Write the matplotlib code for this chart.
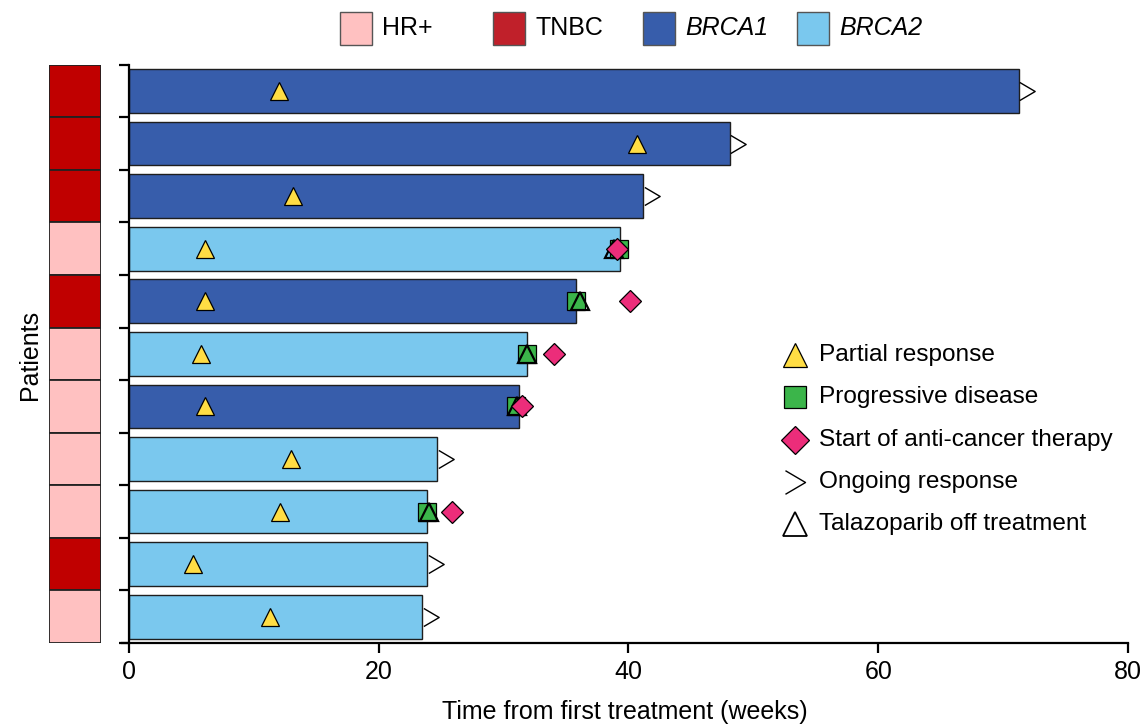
import matplotlib
matplotlib.use("Agg")
import matplotlib.pyplot as plt
from matplotlib.patches import Rectangle
from matplotlib.lines import Line2D
from matplotlib.path import Path

plt.rcParams['font.family'] = ['Liberation Sans', 'DejaVu Sans']

# Patients from top to bottom
subtype = ["TNBC", "TNBC", "TNBC", "HR+", "TNBC", "HR+", "HR+", "HR+", "HR+", "TNBC", "HR+"]
gene = ["BRCA1", "BRCA1", "BRCA1", "BRCA2", "BRCA1", "BRCA2", "BRCA1", "BRCA2", "BRCA2", "BRCA2", "BRCA2"]
duration = [71.3, 48.1, 41.2, 39.3, 35.8, 31.9, 31.2, 24.7, 23.9, 23.9, 23.5]
partial_response = [12.0, 40.7, 13.1, 6.1, 6.1, 5.8, 6.1, 13.0, 12.1, 5.1, 11.3]
ongoing = [True, True, True, False, False, False, False, True, False, True, True]
progression = [None, None, None, 39.2, 35.8, 31.9, 31.0, None, 23.9, None, None]
off_treatment = [None, None, None, 38.8, 36.1, 31.9, 31.1, None, 24.0, None, None]
anticancer = [None, None, None, 39.1, 40.1, 34.0, 31.5, None, 25.9, None, None]
x_ticks = [0, 20, 40, 60, 80]

subtype_colors = {"HR+": "#FFC1C1", "TNBC": "#C00000"}
gene_colors = {"BRCA1": "#375DAB", "BRCA2": "#7AC8EE"}
c_pr = "#FFDD44"
c_pd = "#3BB54A"
c_tx = "#EC2D7A"

W, H = 1148, 727
fig = plt.figure(figsize=(W / 100, H / 100), dpi=100)

ax_bottom = (H - 643) / H
ax_height = (643 - 64.7) / H
ax = fig.add_axes([121.5 / W, ax_bottom, (1128 - 121.5) / W, ax_height])
n = len(duration)
ax.set_ylim(0, n)
ax.set_xlim(-0.6, 80)

chevron = Path([(-0.85, 1.0), (0.85, 0.0), (-0.85, -1.0)],
               [Path.MOVETO, Path.LINETO, Path.LINETO])

for i in range(n):
    y = n - i - 0.5
    ax.barh(y, duration[i], height=0.83, left=0, color=gene_colors[gene[i]],
            edgecolor="#1e1e1e", linewidth=1.0, zorder=2)
    ax.plot(partial_response[i], y, marker="^", ms=13, mfc=c_pr, mec="black",
            mew=0.9, ls="none", zorder=4)
    if ongoing[i]:
        ax.plot(duration[i] + 0.65, y, marker=chevron, ms=13, mfc="none",
                mec="black", mew=1.0, ls="none", zorder=4, clip_on=False)
    if progression[i] is not None:
        ax.plot(progression[i], y, marker="s", ms=12.5, mfc=c_pd, mec="black",
                mew=0.9, ls="none", zorder=4)
    if off_treatment[i] is not None:
        ax.plot(off_treatment[i], y, marker="^", ms=13, mfc="none", mec="black",
                mew=1.6, ls="none", zorder=5)
    if anticancer[i] is not None:
        ax.plot(anticancer[i], y, marker="D", ms=11, mfc=c_tx, mec="black",
                mew=0.9, ls="none", zorder=6)

ax.spines["top"].set_visible(False)
ax.spines["right"].set_visible(False)
ax.spines["left"].set_position(("data", 0))
for s in ("left", "bottom"):
    ax.spines[s].set_linewidth(1.6)
ax.set_yticks(range(n + 1))
ax.set_yticklabels([])
ax.tick_params(axis="y", length=7, width=1.6, direction="out")
ax.set_xticks(x_ticks)
ax.set_xticklabels([str(t) for t in x_ticks], fontsize=18)
ax.tick_params(axis="x", length=7, width=1.6, direction="out", pad=5)
ax.set_xlabel("Time from first treatment (weeks)", fontsize=18, labelpad=12)

# Subtype strip
ax_s = fig.add_axes([49 / W, ax_bottom, 52 / W, ax_height])
ax_s.set_xlim(0, 1)
ax_s.set_ylim(0, n)
for i in range(n):
    ax_s.add_patch(Rectangle((0, n - i - 1), 1, 1, facecolor=subtype_colors[subtype[i]],
                             edgecolor="#222222", linewidth=1.3))
ax_s.axis("off")

fig.text(30 / W, 1 - 355 / H, "Patients", rotation=90, fontsize=18,
         ha="center", va="center")

# Top legend
top_items = [("HR+", subtype_colors["HR+"], 340, "normal"),
             ("TNBC", "#C0202A", 493, "normal"),
             ("BRCA1", gene_colors["BRCA1"], 643, "italic"),
             ("BRCA2", gene_colors["BRCA2"], 797, "italic")]
for label, color, px, style in top_items:
    fig.patches.append(Rectangle((px / W, 1 - 45 / H), 32 / W, 33 / H, facecolor=color,
                                 edgecolor="#555555", linewidth=1.0,
                                 transform=fig.transFigure, figure=fig))
    fig.text((px + 42) / W, 1 - 28 / H, label, fontsize=18, style=style,
             ha="left", va="center")

# Event legend
events = [
    ("Partial response", dict(marker="^", ms=17, mfc=c_pr, mec="black", mew=0.9)),
    ("Progressive disease", dict(marker="s", ms=16, mfc=c_pd, mec="black", mew=0.9)),
    ("Start of anti-cancer therapy", dict(marker="D", ms=14, mfc=c_tx, mec="black", mew=0.9)),
    ("Ongoing response", dict(marker=chevron, ms=17, mfc="none", mec="black", mew=1.0)),
    ("Talazoparib off treatment", dict(marker="^", ms=17, mfc="none", mec="black", mew=1.3)),
]
for k, (label, kw) in enumerate(events):
    yy = 1 - (355 + 42.3 * k) / H
    fig.lines.append(Line2D([795 / W], [yy], transform=fig.transFigure, ls="none",
                            figure=fig, **kw))
    fig.text(819 / W, yy, label, fontsize=17.6, ha="left", va="center")

fig.savefig("out.png", dpi=100)
